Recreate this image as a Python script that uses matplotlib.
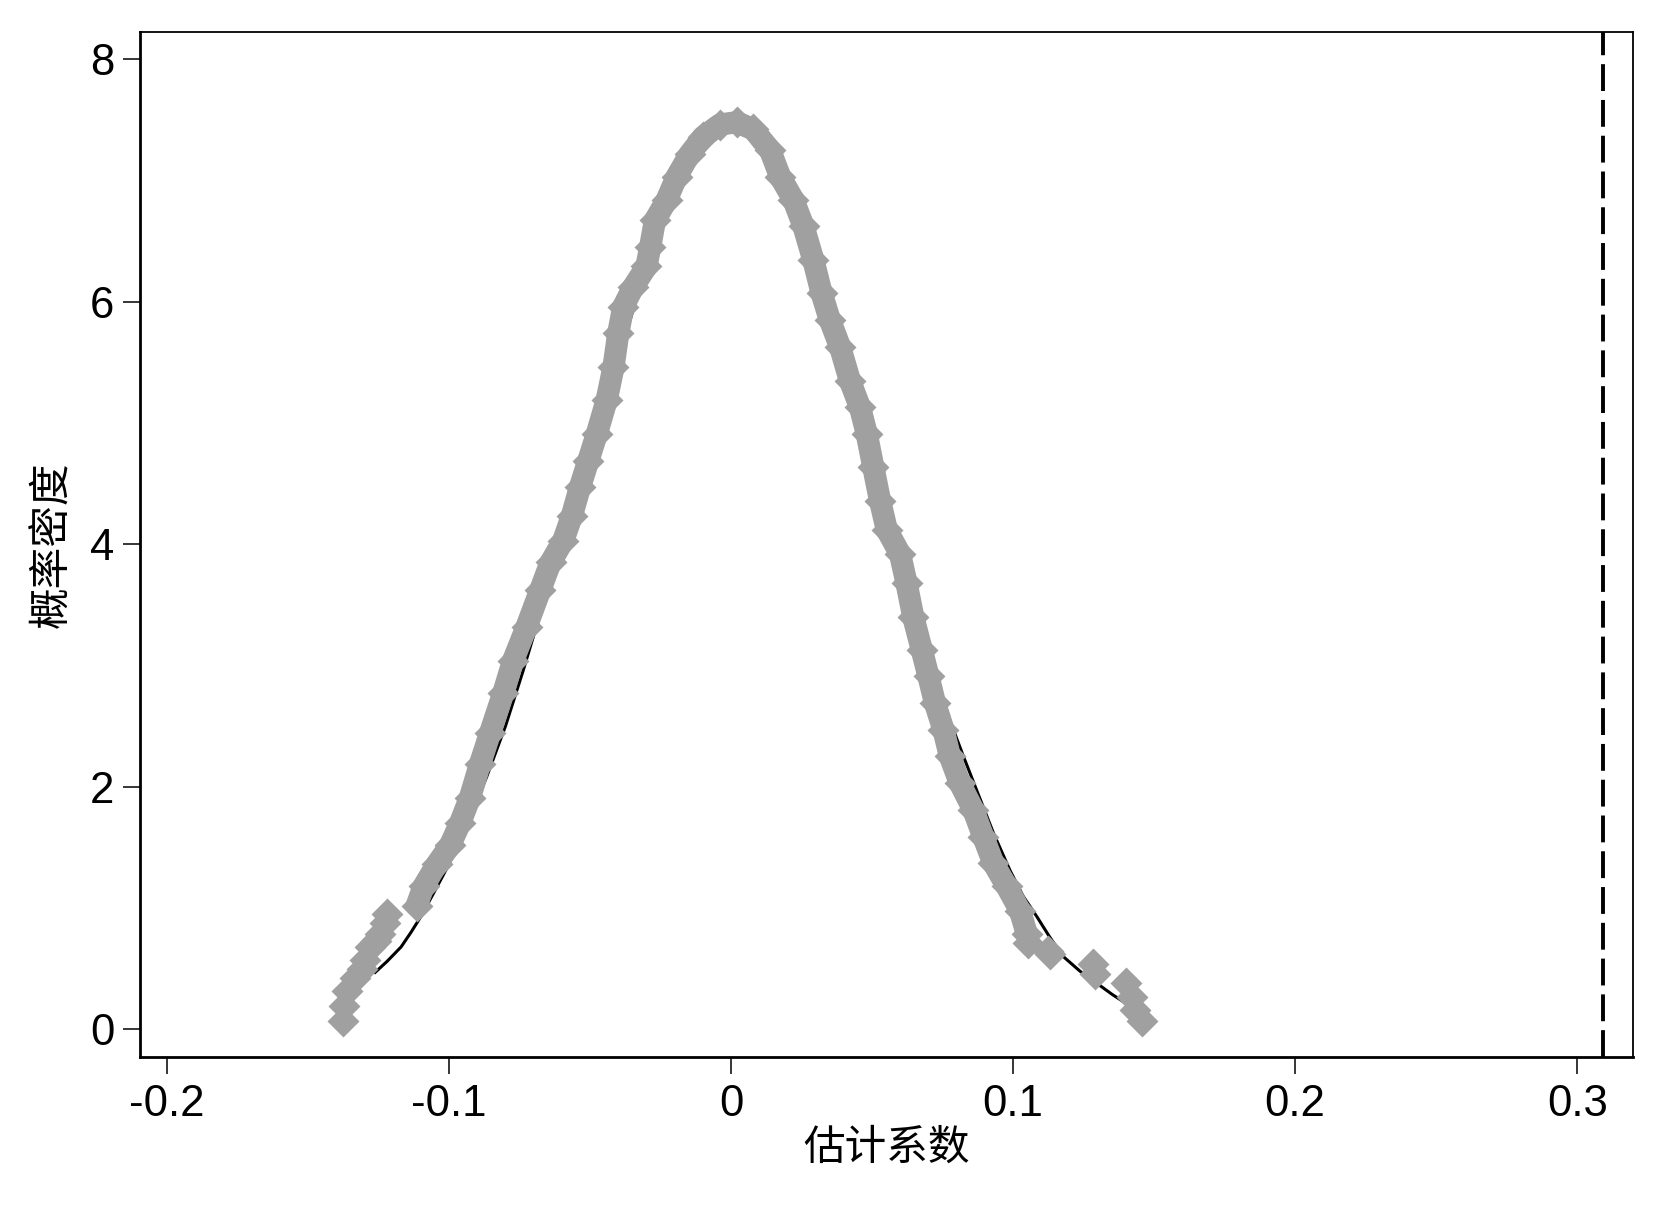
import matplotlib
matplotlib.use("Agg")
from matplotlib import pyplot as plt

plt.rcParams["font.family"] = ["Liberation Sans", "Noto Sans CJK SC", "DejaVu Sans"]

# placebo estimates: scattered density points (continuous main body)
body_x = [-0.1115, -0.1090, -0.1044, -0.0996, -0.0961, -0.0926, -0.0890, -0.0855,
          -0.0808, -0.0773, -0.0725, -0.0677, -0.0640, -0.0595, -0.0565, -0.0536,
          -0.0506, -0.0476, -0.0441, -0.0417, -0.0400, -0.0382, -0.0347, -0.0300,
          -0.0287, -0.0270, -0.0228, -0.0193, -0.0146, -0.0099, -0.0040, 0.0020,
          0.0079, 0.0138, 0.0174, 0.0221, 0.0257, 0.0292, 0.0321, 0.0350,
          0.0386, 0.0421, 0.0457, 0.0481, 0.0504, 0.0528, 0.0552, 0.0599,
          0.0622, 0.0646, 0.0676, 0.0700, 0.0723, 0.0753, 0.0776, 0.0811,
          0.0859, 0.0894, 0.0930, 0.0977, 0.1024, 0.1048]
body_y = [1.02, 1.18, 1.36, 1.52, 1.70, 1.91, 2.19, 2.44,
          2.77, 3.04, 3.32, 3.62, 3.85, 4.03, 4.23, 4.47,
          4.69, 4.91, 5.19, 5.46, 5.74, 5.96, 6.12, 6.29,
          6.45, 6.67, 6.84, 7.03, 7.22, 7.36, 7.46, 7.48,
          7.42, 7.25, 7.03, 6.84, 6.62, 6.34, 6.07, 5.85,
          5.63, 5.35, 5.13, 4.91, 4.64, 4.36, 4.12, 3.92,
          3.68, 3.40, 3.13, 2.91, 2.69, 2.47, 2.25, 2.03,
          1.81, 1.59, 1.37, 1.18, 0.98, 0.79]

# isolated points in the tails
tail_x = [-0.1375, -0.1372, -0.1363, -0.1333, -0.1310, -0.1298, -0.1280, -0.1260,
          -0.1245, -0.1228, -0.1220,
          0.1053, 0.1125, 0.1132, 0.1284, 0.1290, 0.1400, 0.1420, 0.1432, 0.1456]
tail_y = [0.07, 0.19, 0.32, 0.42, 0.50, 0.57, 0.68, 0.73,
          0.79, 0.88, 0.95,
          0.71, 0.65, 0.62, 0.54, 0.46, 0.38, 0.27, 0.16, 0.07]

# density curve (black line)
kd_x = [-0.1262, -0.1220, -0.1170, -0.1135, -0.1100, -0.1044, -0.1003, -0.0935,
        -0.0867, -0.0800, -0.0737, -0.0670, -0.0600, -0.0525, -0.0450, -0.0375,
        -0.0300, -0.0225, -0.0150, -0.0075, 0.0000, 0.0075, 0.0150, 0.0225,
        0.0300, 0.0375, 0.0450, 0.0525, 0.0600, 0.0660, 0.0720, 0.0780,
        0.0824, 0.0871, 0.0930, 0.0989, 0.1035, 0.1084, 0.1130, 0.1178,
        0.1237, 0.1297, 0.1350, 0.1403]
kd_y = [0.47, 0.56, 0.68, 0.80, 0.93, 1.17, 1.35, 1.70,
        2.08, 2.50, 2.96, 3.48, 3.98, 4.55, 5.10, 5.72,
        6.30, 6.80, 7.20, 7.42, 7.48, 7.42, 7.20, 6.80,
        6.30, 5.75, 5.20, 4.55, 3.95, 3.45, 2.95, 2.52,
        2.25, 1.97, 1.62, 1.31, 1.10, 0.93, 0.76, 0.60,
        0.48, 0.38, 0.29, 0.21]

true_coef = 0.309

xticks = [-0.2, -0.1, 0, 0.1, 0.2, 0.3]
xtick_labels = ["-0.2", "-0.1", "0", "0.1", "0.2", "0.3"]
yticks = [0, 2, 4, 6, 8]

gray = "#a0a0a0"

fig = plt.figure(figsize=(16.64, 12.05), dpi=100)
ax = fig.add_axes([0.0841, 0.1228, 0.8973, 0.8506])

ax.plot(kd_x, kd_y, color="black", lw=2.2, zorder=2)
ax.plot(body_x, body_y, color=gray, lw=16, solid_capstyle="round",
        solid_joinstyle="round", zorder=3)
ax.plot(body_x, body_y, ls="none", marker="D", ms=16, color=gray, mec="none", zorder=3)
ax.plot(tail_x, tail_y, ls="none", marker="D", ms=16, color=gray, mec="none", zorder=3)
ax.axvline(true_coef, color="black", lw=2.8, ls=(0, (6.9, 2.3)), zorder=4)

ax.set_xlim(-0.2096, 0.3198)
ax.set_ylim(-0.228, 8.223)
ax.set_xticks(xticks)
ax.set_xticklabels(xtick_labels)
ax.set_yticks(yticks)
ax.tick_params(axis="both", direction="out", length=12.5, width=1.1,
               labelsize=31.5, top=False, right=False)
ax.tick_params(axis="x", pad=7)
ax.tick_params(axis="y", pad=6)
for side in ["left", "bottom"]:
    ax.spines[side].set_linewidth(2.0)
for side in ["top", "right"]:
    ax.spines[side].set_linewidth(1.3)

ax.set_xlabel("估计系数", fontsize=30, family=["Noto Sans CJK SC"], labelpad=2)
ax.set_ylabel("概率密度", fontsize=30, family=["Noto Sans CJK SC"],
              fontweight="medium", labelpad=12)

fig.savefig("out.png", dpi=100)
plt.close(fig)
